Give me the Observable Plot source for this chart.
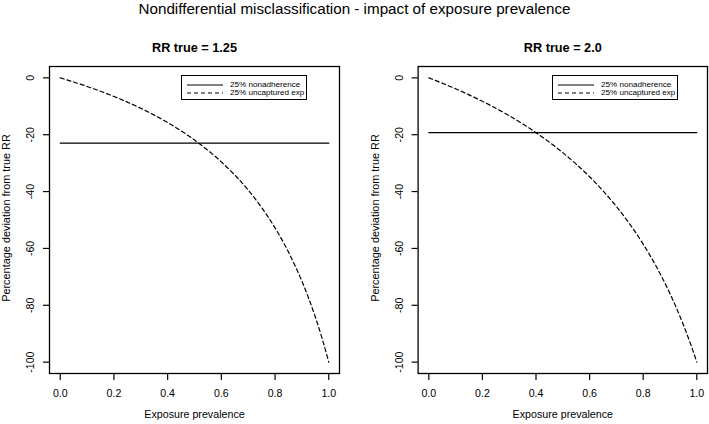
<!DOCTYPE html>
<html>
<head>
<meta charset="utf-8">
<script src="https://cdn.jsdelivr.net/npm/d3@7"></script>
<script src="https://cdn.jsdelivr.net/npm/@observablehq/plot@0.6"></script>
<style>
  body { margin: 0; background: #fff; font-family: "Liberation Sans", Arial, Helvetica, sans-serif; }
  #wrap { position: relative; width: 709px; height: 424px; overflow: hidden; background: #fff; }
  #title { position: absolute; left: 0; top: 0; width: 709px; text-align: center; font-size: 15.2px; line-height: 18px; color: #000; }
  .panel { position: absolute; top: 0; }
  .legend { position: absolute; top: 75px; width: 124px; height: 23px; border: 1px solid #000; background: #fff; box-sizing: content-box; }
  .legend .row { position: absolute; left: 0; height: 8px; width: 124px; }
  .legend svg { position: absolute; left: 5px; top: 0; }
  .legend span { position: absolute; left: 48px; top: -1px; font-size: 8.1px; line-height: 10px; white-space: nowrap; color: #000; }
</style>
</head>
<body>
<div id="wrap">
  <div id="title">Nondifferential misclassification - impact of exposure prevalence</div>
</div>
<script>
// ---- data ----
const prevalence = [0, 0.05, 0.1, 0.15, 0.2, 0.25, 0.3, 0.35, 0.4, 0.45, 0.5,
                    0.55, 0.6, 0.65, 0.7, 0.75, 0.8, 0.85, 0.9, 0.95, 0.975, 1.0];
// % deviation from true RR, 25% uncaptured exposure
const uncapturedRR125 = [0, -1.45, -3.02, -4.71, -6.54, -8.54, -10.71, -13.10, -15.73, -18.63, -21.87,
                         -25.48, -29.56, -34.19, -39.48, -45.61, -52.78, -61.29, -71.53, -84.13, -91.58, -100];
const uncapturedRR2 = [0, -1.86, -3.85, -5.97, -8.25, -10.69, -13.33, -16.18, -19.27, -22.63, -26.30,
                       -30.34, -34.79, -39.73, -45.25, -51.46, -58.50, -66.56, -75.90, -86.88, -93.13, -100];
// % deviation from true RR, 25% nonadherence (constant across prevalence)
const nonadherenceRR125 = -22.99;
const nonadherenceRR2 = -19.26;
const panelTitles = ["RR true = 1.25", "RR true = 2.0"];
const xTicks = [0, 0.2, 0.4, 0.6, 0.8, 1.0];
const yTicks = [0, -20, -40, -60, -80, -100];
const legendLabels = ["25% nonadherence", "25% uncaptured exp"];
const xLabel = "Exposure prevalence";
const yLabel = "Percentage deviation from true RR";

const FONT = '"Liberation Sans", Arial, Helvetica, sans-serif';

function panel({title, dev, nonadh, width, marginLeft, marginRight}) {
  const curveData = prevalence.map((p, i) => ({p, v: dev[i]}));
  const flatData = [{p: prevalence[0], v: nonadh}, {p: prevalence[prevalence.length - 1], v: nonadh}];
  return Plot.plot({
    width, height: 424,
    marginLeft, marginRight, marginTop: 66, marginBottom: 51,
    x: {domain: [-0.04, 1.04]},
    y: {domain: [-104, 4]},
    style: {fontFamily: FONT, background: "transparent", color: "#000", overflow: "visible"},
    marks: [
      Plot.frame({stroke: "#000", strokeWidth: 1.3}),
      Plot.axisX({ticks: xTicks, tickSize: 7, tickPadding: 9, tickFormat: d3.format(".1f"),
                  fontSize: 10.6, label: null, stroke: "#000", fill: "#000", strokeWidth: 1.2}),
      Plot.axisY({ticks: yTicks, tickSize: 6, tickFormat: () => "", label: null, stroke: "#000", strokeWidth: 1.2}),
      Plot.text(yTicks, {y: d => d, text: d => String(d), frameAnchor: "left", dx: -19,
                         textAnchor: "middle", rotate: -90, fontSize: 10.6, fill: "#000"}),
      Plot.line(flatData, {x: "p", y: "v", stroke: "#000", strokeWidth: 1.2}),
      Plot.line(curveData, {x: "p", y: "v", stroke: "#000", strokeWidth: 1.2,
                            strokeDasharray: "4,3", curve: "monotone-x"}),
      Plot.text([title], {frameAnchor: "top", dy: -23.5, text: d => d, fontWeight: "bold",
                          fontSize: 12.7, fill: "#000"}),
      Plot.text([xLabel], {frameAnchor: "bottom", dy: 44, text: d => d, fontSize: 10.7, fill: "#000"}),
      Plot.text([yLabel], {frameAnchor: "left", dx: -43, dy: -2, text: d => d, rotate: -90,
                           textAnchor: "middle", fontSize: 10.9, fill: "#000"})
    ]
  });
}

const wrap = document.getElementById("wrap");
const panels = [
  {left: 0, title: panelTitles[0], dev: uncapturedRR125, nonadh: nonadherenceRR125, width: 354, marginLeft: 49, marginRight: 15, legendLeft: 181},
  {left: 354, title: panelTitles[1], dev: uncapturedRR2, nonadh: nonadherenceRR2, width: 355, marginLeft: 63.6, marginRight: 2, legendLeft: 552}
];
for (const p of panels) {
  const div = document.createElement("div");
  div.className = "panel";
  div.style.left = p.left + "px";
  div.appendChild(panel(p));
  wrap.appendChild(div);

  const lg = document.createElement("div");
  lg.className = "legend";
  lg.style.left = p.legendLeft + "px";
  legendLabels.forEach((lab, i) => {
    const row = document.createElement("div");
    row.className = "row";
    row.style.top = (i === 0 ? 5 : 13) + "px";
    const dash = i === 0 ? "" : ' stroke-dasharray="4,3"';
    row.innerHTML = `<svg width="37" height="8"><line x1="0" y1="4" x2="36" y2="4" stroke="#000" stroke-width="1.1"${dash}/></svg><span>${lab}</span>`;
    lg.appendChild(row);
  });
  wrap.appendChild(lg);
}
</script>
</body>
</html>
